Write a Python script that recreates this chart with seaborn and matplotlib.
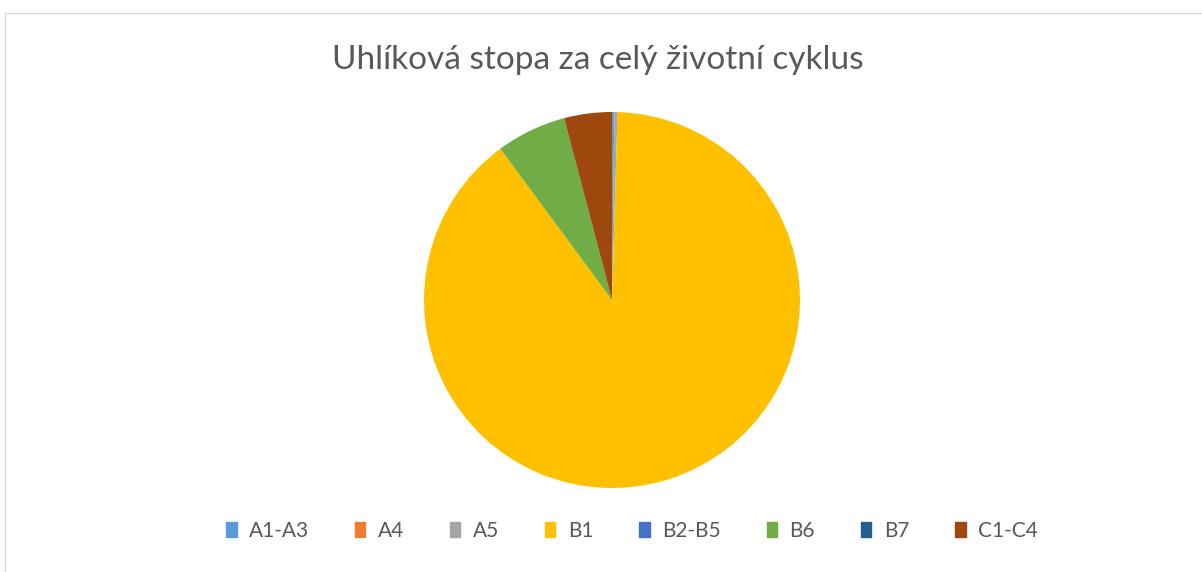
import matplotlib
matplotlib.use("Agg")
import matplotlib.pyplot as plt
import matplotlib.patches as mpatches
import seaborn as sns

sns.set_style("white")
plt.rcParams["font.family"] = ["Lato", "DejaVu Sans"]

phases = ["A1-A3", "A4", "A5", "B1", "B2-B5", "B6", "B7", "C1-C4"]
shares = [0.2, 0.02, 0.25, 89.4, 0.0, 6.0, 0.02, 4.1]
colors = ["#5B9BD5", "#ED7D31", "#A5A5A5", "#FFC000", "#4472C4", "#70AD47", "#255E91", "#9E480E"]
text_color = "#595959"

W, H = 1202, 572
fig = plt.figure(figsize=(W / 100, H / 100), dpi=100)

# ramecek grafu
fig.patches.append(mpatches.Rectangle((4.5 / W, -0.1), 1.2, 1 - 12.5 / H + 0.1,
                                      transform=fig.transFigure, fill=False,
                                      edgecolor="#D9D9D9", linewidth=1))

cx, cy, r = 612, 300, 188
ax = fig.add_axes([(cx - r) / W, (H - cy - r) / H, 2 * r / W, 2 * r / H])
ax.pie(shares, colors=colors, startangle=90, counterclock=False,
       wedgeprops=dict(linewidth=0))
ax.set_xlim(-1, 1)
ax.set_ylim(-1, 1)
ax.set_aspect("equal")
ax.axis("off")

fig.text(598 / W, 1 - 60 / H, "Uhlíková stopa za celý životní cyklus",
         ha="center", va="center", fontsize=24, color=text_color)

handles = [mpatches.Patch(color=c, label=p) for p, c in zip(phases, colors)]
fig.legend(handles=handles, loc="center", bbox_to_anchor=(632 / W, 1 - 531 / H),
           ncol=8, frameon=False, fontsize=15, labelcolor=text_color,
           handlelength=0.5, handleheight=0.7, handletextpad=0.6, columnspacing=2.2)

fig.savefig("out.png", dpi=100)
